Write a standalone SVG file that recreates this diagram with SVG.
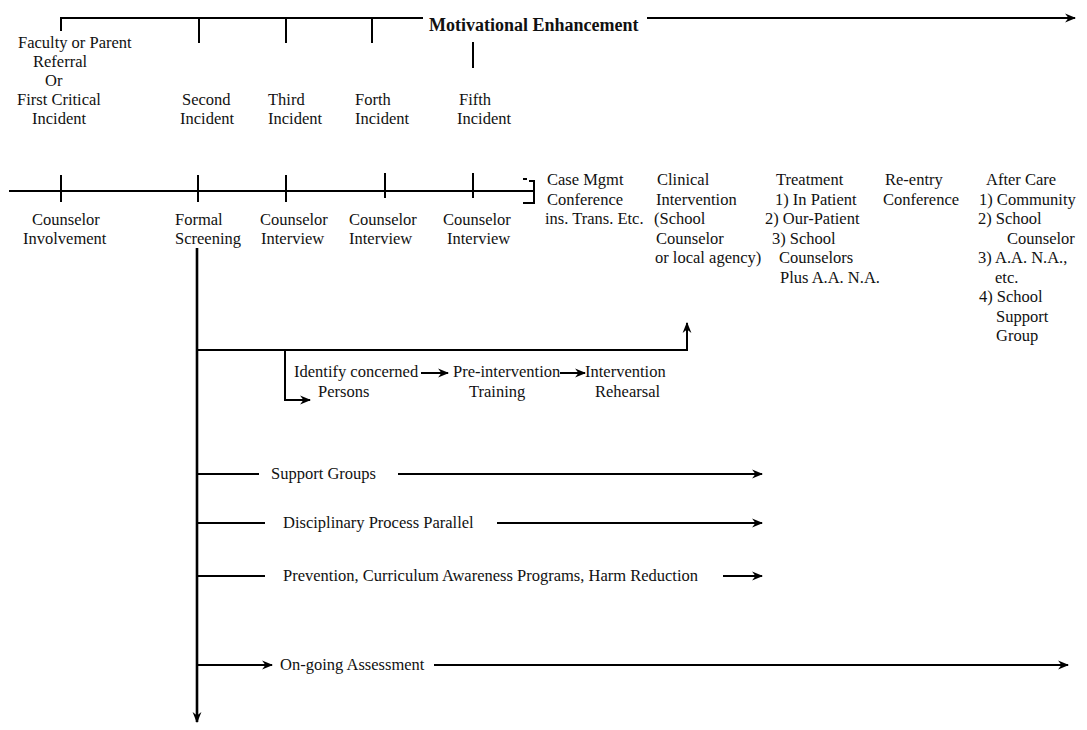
<svg xmlns="http://www.w3.org/2000/svg" width="1087" height="730" viewBox="0 0 1087 730" font-family="'Liberation Serif', 'DejaVu Serif', 'Times New Roman', serif">
<defs>
<style>
text{font-size:16.5px;fill:#111}
.b{font-weight:bold;font-size:18px}
.ln{fill:none;stroke:#000;stroke-width:2}
.thk{stroke-width:2.6}
</style>
<marker id="ah" viewBox="0 0 10 10" refX="9" refY="5" markerWidth="11" markerHeight="11" markerUnits="userSpaceOnUse" orient="auto">
<path d="M0,1 L10,5 L0,9 L3,5 z" fill="#000"/>
</marker>
</defs>
<rect width="1087" height="730" fill="#fff"/>

<g id="connectors">
<path class="ln" d="M61,31 V18 H423"/>
<path class="ln" d="M647,18 H1075" marker-end="url(#ah)"/>
<path class="ln" d="M199,18 V43 M286,18 V43 M372,18 V43 M473,42 V68"/>
<path class="ln" d="M9,191 H534"/>
<path class="ln" d="M61,175 V202 M198,175 V202 M286,175 V202 M385,173 V198 M473,173 V198"/>
<path class="ln" d="M523,179 H527 M529,181 H534 V203 H523" stroke-width="1.5"/>
<path class="ln thk" d="M197,248 V722" marker-end="url(#ah)"/>
<path class="ln" d="M197,350 H687 V323" marker-end="url(#ah)"/>
<path class="ln" d="M285,350 V400 H310" marker-end="url(#ah)"/>
<path class="ln" d="M421,373 H448" marker-end="url(#ah)"/>
<path class="ln" d="M560,373 H585" marker-end="url(#ah)"/>
<path class="ln" d="M197,474 H259"/>
<path class="ln" d="M398,474 H762" marker-end="url(#ah)"/>
<path class="ln" d="M197,523 H265"/>
<path class="ln" d="M497,523 H762" marker-end="url(#ah)"/>
<path class="ln" d="M197,576 H265"/>
<path class="ln" d="M723,576 H762" marker-end="url(#ah)"/>
<path class="ln" d="M197,665 H272" marker-end="url(#ah)"/>
<path class="ln" d="M434,665 H1068" marker-end="url(#ah)"/>
</g>

<g id="motivational"><text class="b" x="429" y="31">Motivational Enhancement</text></g>

<g id="first-incident">
<text x="18" y="48">Faculty or Parent</text>
<text x="33" y="67">Referral</text>
<text x="45" y="86">Or</text>
<text x="17" y="105">First Critical</text>
<text x="32" y="124">Incident</text>
</g>
<g id="second-incident"><text x="182" y="105">Second</text><text x="180" y="124">Incident</text></g>
<g id="third-incident"><text x="268" y="105">Third</text><text x="268" y="124">Incident</text></g>
<g id="forth-incident"><text x="355" y="105">Forth</text><text x="355" y="124">Incident</text></g>
<g id="fifth-incident"><text x="459" y="105">Fifth</text><text x="457" y="124">Incident</text></g>

<g id="counselor-involvement"><text x="32" y="225">Counselor</text><text x="23" y="244">Involvement</text></g>
<g id="formal-screening"><text x="175" y="225">Formal</text><text x="175" y="244">Screening</text></g>
<g id="counselor-interview-1"><text x="260" y="225">Counselor</text><text x="261" y="244">Interview</text></g>
<g id="counselor-interview-2"><text x="349" y="225">Counselor</text><text x="349" y="244">Interview</text></g>
<g id="counselor-interview-3"><text x="443" y="225">Counselor</text><text x="447" y="244">Interview</text></g>

<g id="case-mgmt">
<text x="547" y="185">Case Mgmt</text>
<text x="547" y="205">Conference</text>
<text x="545" y="224">ins. Trans. Etc.</text>
</g>
<g id="clinical-intervention">
<text x="657" y="185">Clinical</text>
<text x="656" y="205">Intervention</text>
<text x="654" y="224">(School</text>
<text x="656" y="244">Counselor</text>
<text x="655" y="263">or local agency)</text>
</g>
<g id="treatment">
<text x="776" y="185">Treatment</text>
<text x="775" y="205">1) In Patient</text>
<text x="765" y="224">2) Our-Patient</text>
<text x="772" y="244">3) School</text>
<text x="779" y="263">Counselors</text>
<text x="780" y="283">Plus A.A. N.A.</text>
</g>
<g id="reentry">
<text x="885" y="185">Re-entry</text>
<text x="883" y="205">Conference</text>
</g>
<g id="after-care">
<text x="986" y="185">After Care</text>
<text x="979" y="205">1) Community</text>
<text x="978" y="224">2) School</text>
<text x="1007" y="244">Counselor</text>
<text x="978" y="263">3) A.A. N.A.,</text>
<text x="995" y="283">etc.</text>
<text x="979" y="302">4) School</text>
<text x="996" y="322">Support</text>
<text x="996" y="341">Group</text>
</g>

<g id="identify"><text x="294" y="377">Identify concerned</text><text x="318" y="397">Persons</text></g>
<g id="pre-intervention"><text x="453" y="377">Pre-intervention</text><text x="469" y="397">Training</text></g>
<g id="rehearsal"><text x="585" y="377">Intervention</text><text x="595" y="397">Rehearsal</text></g>

<g id="support-groups"><text x="271" y="479">Support Groups</text></g>
<g id="disciplinary"><text x="283" y="528">Disciplinary Process Parallel</text></g>
<g id="prevention"><text x="283" y="581">Prevention, Curriculum Awareness Programs, Harm Reduction</text></g>
<g id="ongoing"><text x="280" y="670">On-going Assessment</text></g>
</svg>
